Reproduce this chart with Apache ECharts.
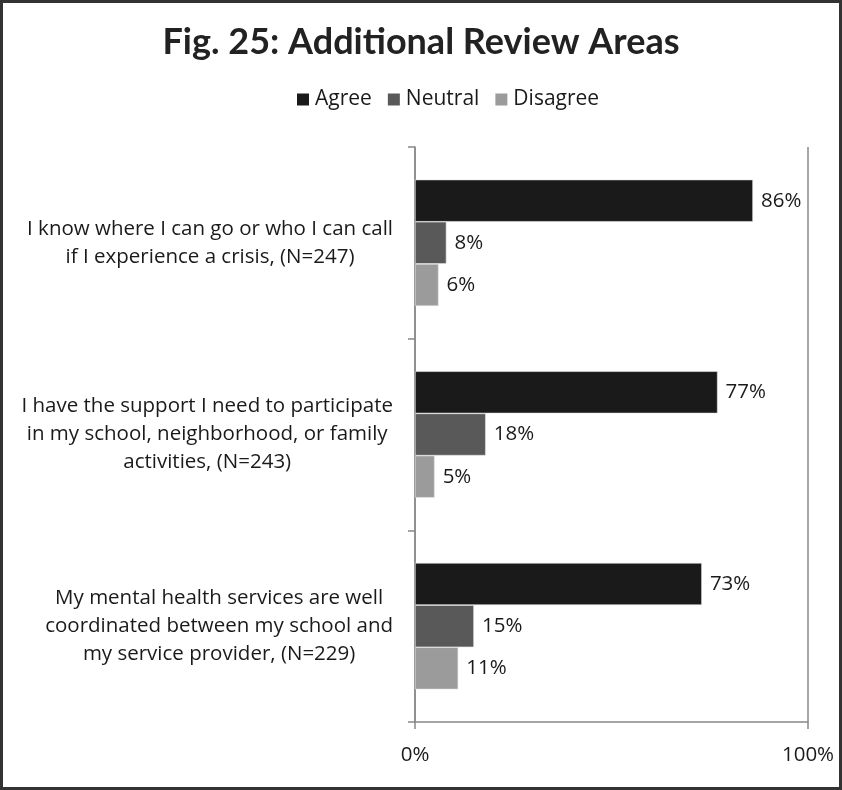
<!DOCTYPE html>
<html>
<head>
<meta charset="utf-8">
<script src="https://cdn.jsdelivr.net/npm/echarts@6/dist/echarts.min.js"></script>
<style>
  html, body { margin: 0; padding: 0; background: #fff; }
  #chart { width: 842px; height: 790px; }
</style>
</head>
<body>
<div id="chart"></div>
<script>
// Survey statements (one line per array entry, shown as multi-line axis labels)
const categories = [
  ['I know where I can go or who I can call', 'if I experience a crisis, (N=247)'],
  ['I have the support I need to participate', 'in my school, neighborhood, or family', 'activities, (N=243)'],
  ['My mental health services are well', 'coordinated between my school and', 'my service provider, (N=229)']
];
const seriesNames = ['Agree', 'Neutral', 'Disagree'];
const agree = [86, 77, 73];
const neutral = [8, 18, 15];
const disagree = [6, 5, 11];
const xTicks = [0, 100];

const font = '"Open Sans", "Noto Sans", sans-serif';
const colors = ['#1a1a1a', '#595959', '#9b9b9b'];

const chart = echarts.init(document.getElementById('chart'));

const makeSeries = (name, data, color) => ({
  name: name,
  type: 'bar',
  data: data,
  barGap: '0%',
  barCategoryGap: '34%',
  itemStyle: { color: color, borderColor: '#e8e8e8', borderWidth: 0.6 },
  label: {
    show: true,
    position: 'right',
    distance: 8,
    formatter: '{c}%',
    fontFamily: font,
    fontSize: 20.5,
    color: '#1a1a1a'
  }
});

chart.setOption({
  animation: false,
  backgroundColor: '#fff',
  color: colors,
  title: {
    text: 'Fig. 25: Additional Review Areas',
    left: 'center',
    top: 19,
    textStyle: {
      fontFamily: '"Lato", sans-serif',
      fontWeight: 'bold',
      fontSize: 36,
      color: '#222'
    }
  },
  legend: {
    top: 84,
    left: 292,
    itemWidth: 12,
    itemHeight: 12,
    itemGap: 16,
    icon: 'rect',
    data: seriesNames,
    itemStyle: { borderWidth: 0 },
    textStyle: { fontFamily: font, fontSize: 21, color: '#1a1a1a', padding: [0, 0, 0, 1] }
  },
  graphic: [{
    type: 'rect',
    shape: { x: 1.5, y: 1.5, width: 839, height: 787 },
    style: { fill: 'none', stroke: '#333', lineWidth: 3 },
    silent: true
  }],
  grid: { left: 415, right: 34, top: 147, bottom: 68 },
  xAxis: {
    type: 'value',
    min: xTicks[0],
    max: xTicks[xTicks.length - 1],
    interval: 100,
    axisLine: { show: true, lineStyle: { color: '#888', width: 1.5 } },
    axisTick: { show: true, length: 7, lineStyle: { color: '#888', width: 1.5 } },
    splitLine: { show: true, lineStyle: { color: '#888', width: 1.5 } },
    axisLabel: {
      formatter: '{value}%',
      margin: 23,
      fontFamily: font,
      fontSize: 20.5,
      color: '#1a1a1a'
    }
  },
  yAxis: {
    type: 'category',
    inverse: true,
    data: categories.map(lines => lines.join('\n')),
    axisLine: { show: true, lineStyle: { color: '#888', width: 1.5 } },
    axisTick: { show: true, length: 7, lineStyle: { color: '#888', width: 1.5 } },
    axisLabel: {
      margin: 22,
      formatter: v => v.split('\n').map(s => '{c|' + s + '}').join('\n'),
      rich: {
        c: {
          align: 'center',
          fontFamily: font,
          fontSize: 20.5,
          lineHeight: 28,
          color: '#1a1a1a'
        }
      }
    }
  },
  series: [
    makeSeries(seriesNames[0], agree, colors[0]),
    makeSeries(seriesNames[1], neutral, colors[1]),
    makeSeries(seriesNames[2], disagree, colors[2])
  ]
});
</script>
</body>
</html>
